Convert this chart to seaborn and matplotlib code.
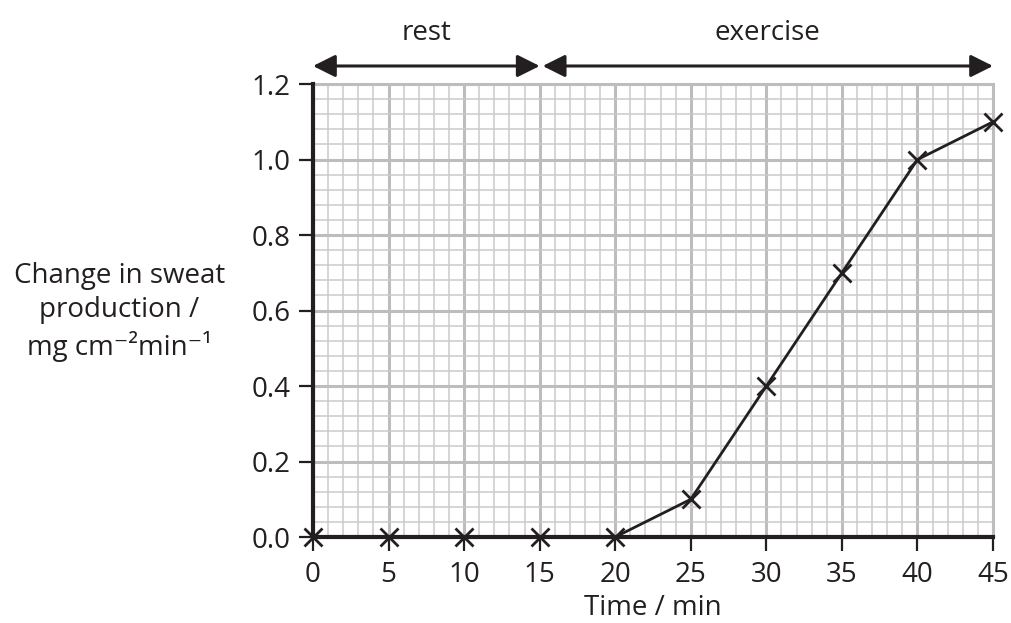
import matplotlib
matplotlib.use("Agg")
import matplotlib.pyplot as plt
import seaborn as sns
import numpy as np
import pandas as pd
from matplotlib.ticker import MultipleLocator

time_min = [0, 5, 10, 15, 20, 25, 30, 35, 40, 45]
sweat_change = [0.0, 0.0, 0.0, 0.0, 0.0, 0.1, 0.4, 0.7, 1.0, 1.1]
x_ticks = [0, 5, 10, 15, 20, 25, 30, 35, 40, 45]
y_ticks = [0.0, 0.2, 0.4, 0.6, 0.8, 1.0, 1.2]
y_tick_labels = ["0.0", "0.2", "0.4", "0.6", "0.8", "1.0", "1.2"]
phases = ["rest", "exercise"]
phase_start = [0, 15.2]
phase_end = [15, 45]

sns.set_theme(style="white")
plt.rcParams['font.family'] = ['Open Sans', 'DejaVu Sans']

df = pd.DataFrame({"t": time_min, "s": sweat_change})

fig = plt.figure(figsize=(10.11, 6.23), dpi=100)
ax = fig.add_axes([0.3096, 0.138, 0.9822 - 0.3096, 0.865 - 0.138])

ax.set_xlim(0, 45)
ax.set_ylim(0, 1.2)
ax.xaxis.set_minor_locator(MultipleLocator(1))
ax.yaxis.set_minor_locator(MultipleLocator(0.04))
ax.set_xticks(x_ticks)
ax.set_yticks(y_ticks)
ax.set_yticklabels(y_tick_labels)
ax.grid(which="minor", color="#cacaca", linewidth=1.1, zorder=0)
ax.grid(which="major", color="#bdbdbd", linewidth=2.2, zorder=0)
ax.set_axisbelow(True)

sns.lineplot(data=df, x="t", y="s", ax=ax, color="#231f20", linewidth=2.0,
             marker="x", markersize=13, markeredgewidth=2.0,
             markeredgecolor="#231f20", clip_on=False, zorder=5)

for side in ["top", "right"]:
    ax.spines[side].set_color("#bdbdbd")
    ax.spines[side].set_linewidth(2.2)
for side in ["left", "bottom"]:
    ax.spines[side].set_color("#231f20")
    ax.spines[side].set_linewidth(3.0)
    ax.spines[side].set_zorder(4)

ax.tick_params(which="major", direction="out", length=10, width=1.6,
               color="#231f20", labelsize=20, labelcolor="#231f20",
               bottom=True, left=True)
ax.tick_params(axis="x", which="major", pad=7)
ax.tick_params(axis="y", which="major", pad=6)
ax.tick_params(which="minor", length=0)

ax.set_xlabel("Time / min", fontsize=20, color="#231f20", labelpad=4)
ax.set_ylabel("")
fig.text(0.118, 0.499, "Change in sweat\nproduction /\nmg cm\u207b\u00b2min\u207b\u00b9",
         ha="center", va="center", fontsize=20, color="#231f20",
         linespacing=1.3)

for name, a, b in zip(phases, phase_start, phase_end):
    ax.annotate("", xy=(a, 1.248), xytext=(b, 1.248), xycoords="data",
                annotation_clip=False,
                arrowprops=dict(arrowstyle="<|-|>", color="#231f20", lw=2.2,
                                mutation_scale=34, shrinkA=0, shrinkB=0))
    ax.text((a + b) / 2, 1.335, name, ha="center", va="center", fontsize=20,
            color="#231f20", clip_on=False)

fig.savefig("out.png", dpi=100)
